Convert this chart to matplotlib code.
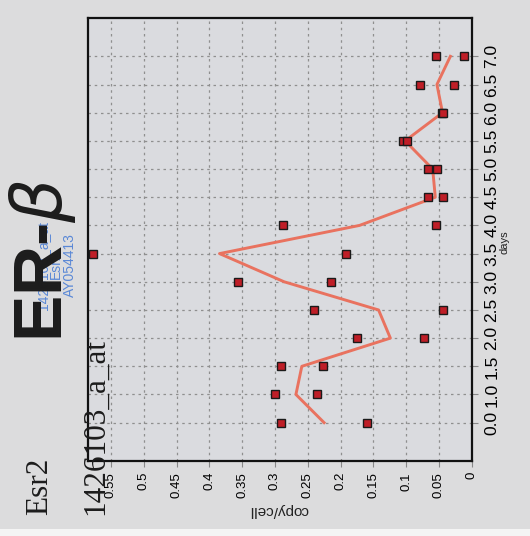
import matplotlib
matplotlib.use("Agg")
import matplotlib.pyplot as plt
import numpy as np
from matplotlib.patches import Rectangle

plt.rcParams["font.family"] = ["Liberation Sans", "DejaVu Sans"]

# time points (days) and the two replicate measurements (copy/cell)
days = ["0.0", "1.0", "1.5", "2.0", "2.5", "3.0", "3.5",
        "4.0", "4.5", "5.0", "5.5", "6.0", "6.5", "7.0"]
rep_a = [0.290, 0.300, 0.291, 0.175, 0.240, 0.357, 0.577,
         0.287, 0.067, 0.066, 0.105, 0.046, 0.079, 0.054]
rep_b = [0.160, 0.236, 0.227, 0.073, 0.044, 0.215, 0.192,
         0.055, 0.044, 0.053, 0.098, 0.043, 0.027, 0.011]
copy_ticks = [0, 0.05, 0.1, 0.15, 0.2, 0.25, 0.3, 0.35, 0.4, 0.45, 0.5, 0.55]
copy_labels = ["0", "0.05", "0.1", "0.15", "0.2", "0.25", "0.3",
               "0.35", "0.4", "0.45", "0.5", "0.55"]

mean = (np.array(rep_a) + np.array(rep_b)) / 2
pos = np.arange(len(days))

W, H = 530, 536


def fx(px):
    return px / W


def fy(py):
    return 1 - py / H


fig = plt.figure(figsize=(5.3, 5.36), dpi=100, facecolor="#dcdcdd")
fig.patches.append(Rectangle((0, 0), 1, fy(529), transform=fig.transFigure,
                             facecolor="#f4f4f4", edgecolor="none", zorder=-1))

# plot is drawn sideways: copy/cell runs right-to-left, days bottom-to-top
ax = fig.add_axes([fx(88), fy(461), fx(471.7) - fx(88), fy(18) - fy(461)])
ax.set_facecolor("#dadbdf")

ax.plot(mean, pos, color="#e9725f", lw=2.1, zorder=3)
for vals in (rep_a, rep_b):
    ax.plot(vals, pos, "s", ms=6.4, mfc="#bf1e27", mec="#1a1a1a", mew=1.0,
            zorder=4, clip_on=False)

ax.set_xlim(0.585, 0)
ax.set_ylim(-1.36, 14.36)

ax.set_xticks(copy_ticks)
ax.set_xticklabels(copy_labels, rotation=90, fontsize=9.5)
ax.set_yticks(pos)
ax.set_yticklabels(days, rotation=90, fontsize=12.5, va="center")
ax.yaxis.tick_right()
ax.tick_params(axis="x", length=4, width=0.8, color="#888888", pad=4)
ax.tick_params(axis="y", length=4, width=0.8, color="#888888", pad=5)

ax.grid(True, linestyle=(0, (2, 3)), color="#8f8f8f", lw=0.9)
ax.set_axisbelow(True)
for s in ax.spines.values():
    s.set_linewidth(1.6)
    s.set_color("#111111")

fig.text(fx(279), fy(510), "copy/cell", rotation=180, ha="center",
         va="center", fontsize=11, color="#222222")
fig.text(fx(505), fy(242), "days", rotation=90, ha="center", va="center",
         fontsize=8, color="#222222")

# probe annotation in blue, partly under the title
blue = "#5a88d6"
for txt, bx in (("1426103_a_at", 47), ("Esr2", 60), ("AY054413", 74)):
    fig.text(fx(bx), fy(265), txt, rotation=90, rotation_mode="anchor",
             ha="center", va="baseline", fontsize=10, color=blue, zorder=2)

fig.text(fx(62), fy(342), r"ER-$\beta$", rotation=90, rotation_mode="anchor",
         ha="left", va="baseline", fontsize=50, fontweight="bold",
         color="#1c1c1c", zorder=5)

serif = ["Liberation Serif", "DejaVu Serif"]
fig.text(fx(47), fy(515), "Esr2", rotation=90, rotation_mode="anchor",
         ha="left", va="baseline", fontsize=22.5, family=serif,
         color="#1c1c1c", zorder=5)
fig.text(fx(103), fy(515), "1426103_a_at", rotation=90, rotation_mode="anchor",
         ha="left", va="baseline", fontsize=22.5, family=serif,
         color="#1c1c1c", zorder=5)

fig.savefig("out.png", dpi=100, facecolor=fig.get_facecolor())
